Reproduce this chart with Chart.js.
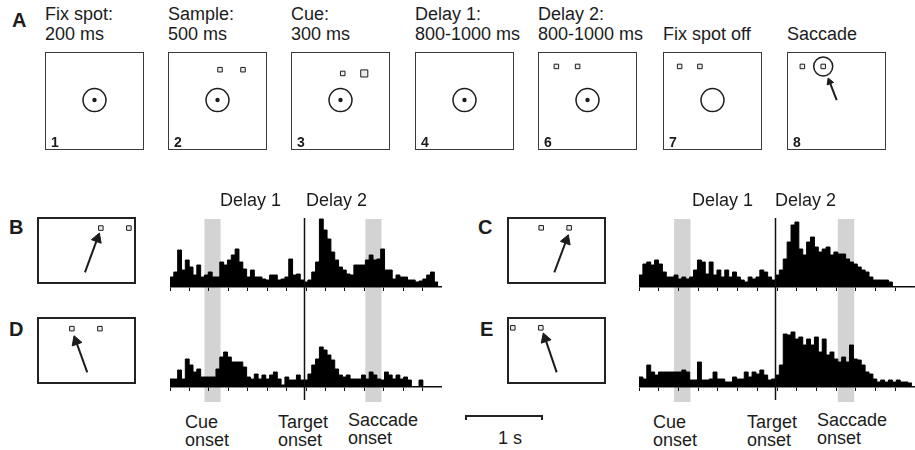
<!DOCTYPE html>
<html>
<head>
<meta charset="utf-8">
<title>Delay task - single neuron activity</title>
<script src="https://cdn.jsdelivr.net/npm/chart.js@4.4.1/dist/chart.umd.min.js"></script>
<style>
  body { margin: 0; background: #fff; }
  #fig { position: relative; width: 915px; height: 450px; overflow: hidden;
         font-family: "Liberation Sans", Arial, Helvetica, sans-serif; color: #1c1c1c; }
  .txt { position: absolute; font-size: 18px; line-height: 20px; white-space: nowrap; }
  .ev { position: absolute; font-size: 18px; line-height: 18px; white-space: nowrap; }
  .panel { position: absolute; font-weight: bold; font-size: 20px; line-height: 20px; }
  .num { position: absolute; font-weight: bold; font-size: 14px; line-height: 14px; }
  .box { position: absolute; border: 1.5px solid #3a3a3a; box-sizing: border-box; }
  .mini { border-width: 2px; border-color: #222; }
  .plot { position: absolute; }
  #scalebar { position: absolute; left: 465px; top: 415px; width: 78px; height: 5px;
              border: 2px solid #222; border-bottom: none; box-sizing: border-box; }
</style>
</head>
<body>
<div id="fig"><div id="scalebar"></div></div>
<script>
// ---------- data ----------
// histogram bins: 50 ms, time relative to target onset (ms)
const binStart = -1750;
const binWidth = 50;
const tickStep = 250;
const targetOnset = 0;
const cueBand = [-1300, -1090];
const saccadeBand = [800, 1010];

// firing rate (spikes/s)
const rateB = [10,15,37,17,27,20,12,22,10,12, 15,10,10,25,22,27,32,38,25,18,
               10,17,10,10,8,7,12,12,7,8, 10,28,12,13,7,5,7,15,25,68,
               57,48,35,27,20,17,13,12,22,22, 22,27,32,27,28,38,17,17,8,12,
               10,10,7,7,5,6,8,12,15,5];
const rateD = [8,8,17,8,28,22,15,18,10,10, 10,10,18,30,35,30,25,25,25,20,
               10,8,13,8,12,8,12,15,8,2, 10,7,7,12,7,7,13,22,28,40,
               37,32,27,18,12,10,12,8,8,8, 12,8,15,12,8,7,15,12,8,12,
               8,10,7,0,0,7,0,0,0,0];
const rateC = [12,23,25,22,27,23,15,10,10,12, 8,10,8,10,17,27,25,13,25,12,
               17,10,17,10,15,10,7,5,10,8, 10,17,15,10,7,12,17,28,45,62,
               65,38,32,45,50,40,35,38,40,32, 35,33,33,28,25,23,20,17,15,10,
               7,7,7,7,5,0,0,0,0,0];
const rateE = [10,8,22,15,12,15,15,15,15,15, 15,17,15,7,7,25,7,7,8,15,
               8,8,5,5,10,8,8,15,10,15, 13,17,12,7,8,12,22,53,52,55,
               48,50,42,48,42,50,35,48,32,35, 28,25,30,25,42,28,27,22,15,13,
               8,5,7,5,7,5,7,5,5,4];

// task sequence (panel A)
const stepTitles = [["Fix spot:", "200 ms"], ["Sample:", "500 ms"], ["Cue:", "300 ms"],
                    ["Delay 1:", "800-1000 ms"], ["Delay 2:", "800-1000 ms"],
                    ["", "Fix spot off"], ["", "Saccade"]];
const stepNums = ["1", "2", "3", "4", "6", "7", "8"];

// schematic positions, % of the screen box (y up)
const fixPoint = [50, 51];
const sampleTargets = [[52.6, 82.6], [76.3, 82.6]];
const cueTargets = [[52.3, 78.7], [74.5, 78.7]];
const delay2Targets = [[17.9, 86], [39.8, 86]];
const fixOffTargets = [[16.1, 86], [37, 86]];
const saccadeTargets = [[14.8, 86], [36.3, 86]];
const saccadeArrow = [[50.2, 51], [42.9, 70]];

const targetsB = [[65.1, 85.6], [94.6, 85.6]];
const arrowB = [[48.4, 15.3], [61.4, 68.8]];
const targetsC = [[33.9, 86], [63.3, 86]];
const arrowC = [[47.7, 15.3], [60.3, 66.1]];
const targetsD = [[34.6, 84.7], [64.1, 84.7]];
const arrowD = [[50.8, 15.3], [39, 64.5]];
const targetsE = [[4, 86], [33.5, 86]];
const arrowE = [[50.2, 15.3], [38.1, 68.8]];

const delayLabels = ["Delay 1", "Delay 2"];
const eventLabels = [["Cue", "onset"], ["Target", "onset"], ["Saccade", "onset"]];

// ---------- layout ----------
const ink = '#1c1c1c';
const fig = document.getElementById('fig');
const stepLeft = [45, 168, 291, 415, 538, 663, 787];

function put(cls, left, top, html, style) {
  const d = document.createElement('div');
  d.className = cls;
  d.style.left = left + 'px';
  d.style.top = top + 'px';
  if (style) Object.assign(d.style, style);
  d.innerHTML = html;
  fig.appendChild(d);
  return d;
}

function canvasIn(cls, left, top, w, h) {
  const d = put(cls, left, top, '', { width: w + 'px', height: h + 'px' });
  const c = document.createElement('canvas');
  d.appendChild(c);
  return c;
}

// ---------- schematics ----------
const sketchOptions = {
  responsive: true, maintainAspectRatio: false, animation: false, events: [],
  layout: { padding: 0, autoPadding: false },
  plugins: { legend: { display: false }, tooltip: { enabled: false } },
  scales: {
    x: { type: 'linear', display: false, min: 0, max: 100 },
    y: { type: 'linear', display: false, min: 0, max: 100 }
  }
};

function xy(p) { return { x: p[0], y: p[1] }; }

function sketch(canvas, s) {
  const ds = [];
  if (s.window) ds.push({ data: [xy(s.window)], pointStyle: 'circle', pointRadius: s.windowR || 11.5,
                          borderColor: ink, borderWidth: 1.5, backgroundColor: 'rgba(0,0,0,0)' });
  if (s.dot) ds.push({ data: [xy(fixPoint)], pointStyle: 'circle', pointRadius: 2.2,
                       backgroundColor: ink, borderWidth: 0 });
  (s.targets || []).forEach((t, i) => ds.push({
    data: [xy(t)], pointStyle: 'rect', pointRadius: (s.cue === i) ? 5 : 3.2,
    backgroundColor: '#ececec', borderColor: ink, borderWidth: 1
  }));
  if (s.arrow) ds.push({
    data: s.arrow.map(xy), showLine: true, borderColor: ink, borderWidth: 2,
    pointStyle: 'triangle', pointRadius: [0, s.head || 6],
    pointBackgroundColor: ink, pointBorderColor: ink, pointBorderWidth: 1,
    pointRotation: ctx => {
      const c = ctx.chart, d = ctx.dataset.data;
      const dx = c.scales.x.getPixelForValue(d[1].x) - c.scales.x.getPixelForValue(d[0].x);
      const dy = c.scales.y.getPixelForValue(d[1].y) - c.scales.y.getPixelForValue(d[0].y);
      return Math.atan2(dx, -dy) * 180 / Math.PI;
    }
  });
  ds.forEach(d => d.clip = false);
  new Chart(canvas, { type: 'scatter', data: { datasets: ds }, options: sketchOptions });
}

// ---------- histograms ----------
const eventMarks = {
  id: 'eventMarks',
  beforeDraw(chart, args, o) {
    const { ctx, chartArea, scales: { x } } = chart;
    const base = chartArea.bottom;
    ctx.save();
    ctx.fillStyle = '#d3d3d3';
    [cueBand, saccadeBand].forEach(b => {
      const x0 = x.getPixelForValue(b[0]), x1 = x.getPixelForValue(b[1]);
      ctx.fillRect(x0, base + o.bandFrom, x1 - x0, o.bandTo - o.bandFrom);
    });
    ctx.restore();
  },
  afterDatasetsDraw(chart, args, o) {
    const { ctx, chartArea, scales: { x } } = chart;
    const base = chartArea.bottom;
    const px = Math.round(x.getPixelForValue(targetOnset)) + 0.5;
    ctx.save();
    ctx.strokeStyle = '#111';
    ctx.lineWidth = 1.5;
    ctx.beginPath();
    ctx.moveTo(px, base + o.lineFrom);
    ctx.lineTo(px, base + o.lineTo);
    ctx.stroke();
    ctx.restore();
  }
};

function histogram(canvas, rates, o) {
  // bin centres, stepped 'middle' so each value covers its bin
  const pts = rates.map((v, i) => ({ x: binStart + (i + 0.5) * binWidth, y: v }));
  pts.unshift({ x: binStart, y: rates[0] });
  pts.push({ x: binStart + rates.length * binWidth, y: rates[rates.length - 1] });
  new Chart(canvas, {
    type: 'line',
    data: { datasets: [{ data: pts, stepped: 'middle', fill: 'origin', backgroundColor: '#000',
                         borderColor: '#000', borderWidth: 1, pointRadius: 0 }] },
    options: {
      responsive: true, maintainAspectRatio: false, animation: false, events: [],
      layout: { padding: { top: o.padTop, bottom: o.padBottom, left: 0, right: 0 }, autoPadding: false },
      plugins: { legend: { display: false }, tooltip: { enabled: false }, eventMarks: o.marks },
      scales: {
        x: { type: 'linear', min: binStart, max: o.xMax,
             ticks: { display: false, stepSize: tickStep, includeBounds: false },
             grid: { drawOnChartArea: false, drawTicks: true, tickLength: 4, color: '#111', lineWidth: 1 },
             border: { display: true, color: '#111', width: 1.5 } },
        y: { display: false, min: 0, max: o.yMax }
      }
    },
    plugins: [eventMarks]
  });
}

// ---------- panel A ----------
put('panel', 12, 10, 'A');
stepTitles.forEach((t, i) => {
  put('txt', stepLeft[i], 4, (t[0] || '&nbsp;') + '<br>' + t[1]);
});
const stepSpecs = [
  { window: fixPoint, dot: true },
  { window: fixPoint, dot: true, targets: sampleTargets },
  { window: fixPoint, dot: true, targets: cueTargets, cue: 1 },
  { window: fixPoint, dot: true },
  { window: fixPoint, dot: true, targets: delay2Targets },
  { window: fixPoint, dot: false, targets: fixOffTargets },
  { window: saccadeTargets[1], windowR: 9.5, targets: saccadeTargets, arrow: saccadeArrow, head: 4 }
];
stepSpecs.forEach((s, i) => sketch(canvasIn('box', stepLeft[i], 52, 99, 98), s));
stepNums.forEach((n, i) => put('num', stepLeft[i] + 6, 135, n));

// ---------- panels B-E ----------
put('panel', 9, 217, 'B');
put('panel', 9, 319, 'D');
put('panel', 478, 217, 'C');
put('panel', 480, 319, 'E');

sketch(canvasIn('box mini', 37, 217, 99, 67), { targets: targetsB, arrow: arrowB });
sketch(canvasIn('box mini', 37, 317, 99, 67), { targets: targetsD, arrow: arrowD });
sketch(canvasIn('box mini', 507, 217, 99, 67), { targets: targetsC, arrow: arrowC });
sketch(canvasIn('box mini', 507, 317, 99, 67), { targets: targetsE, arrow: arrowE });

const upper = { padTop: 3, padBottom: 9, yMax: 84,
                marks: { bandFrom: -68, bandTo: 13, lineFrom: -69, lineTo: 13 } };
const lower = { padTop: 0, padBottom: 14, yMax: 87,
                marks: { bandFrom: -87, bandTo: 15, lineFrom: -87, lineTo: 13 } };

histogram(canvasIn('plot', 170, 200, 272, 100), rateB, Object.assign({ xMax: 1800 }, upper));
histogram(canvasIn('plot', 170, 300, 272, 105), rateD, Object.assign({ xMax: 1800 }, lower));
histogram(canvasIn('plot', 639, 200, 276, 100), rateC, Object.assign({ xMax: 1790 }, upper));
histogram(canvasIn('plot', 639, 300, 276, 105), rateE, Object.assign({ xMax: 1790 }, lower));

// labels
put('txt', 220, 190, delayLabels[0]);
put('txt', 306, 190, delayLabels[1]);
put('txt', 692, 190, delayLabels[0]);
put('txt', 775, 190, delayLabels[1]);

const evLeft = [[185, 278, 348], [653, 747, 817]];
const evTop = [412.5, 412.5, 410.5];
evLeft.forEach(col => eventLabels.forEach((l, i) => put('ev', col[i], evTop[i], l.join('<br>'))));
put('ev', 498, 429, '1 s');
</script>
</body>
</html>
